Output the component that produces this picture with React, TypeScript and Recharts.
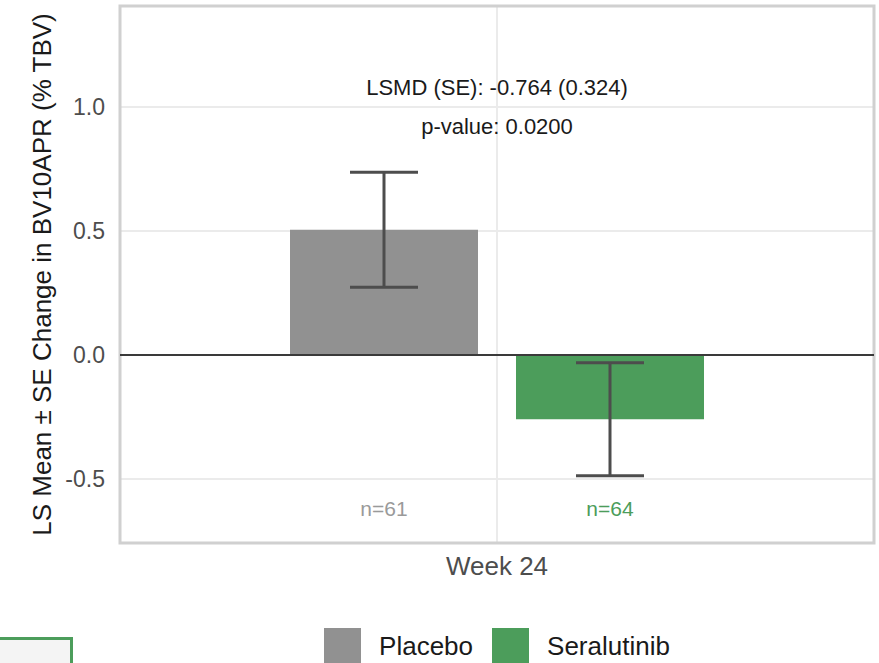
import React from 'react';
import {
  BarChart,
  Bar,
  XAxis,
  YAxis,
  CartesianGrid,
  ErrorBar,
  ReferenceLine,
  ReferenceArea,
  LabelList,
  Legend,
} from 'recharts';

// Week 24 least-squares means and standard errors per arm
const visits = ['Week 24'];
const placeboMean = [0.505];
const placeboSE = [0.232];
const seralutinibMean = [-0.259];
const seralutinibSE = [0.228];
const placeboN = [61];
const seralutinibN = [64];

const yTicks = [-0.5, 0, 0.5, 1.0];
const yDomain = [-0.758, 1.407];

const lsmdText = 'LSMD (SE): -0.764 (0.324)';
const pValueText = 'p-value: 0.0200';
const lsmdY = 1.077;
const pValueY = 0.923;
const nLabelY = -0.617;

const GRAY = '#919191';
const GREEN = '#4c9d5b';
const FONT = '"Liberation Sans", Arial, Helvetica, sans-serif';

const data = visits.map((v, i) => ({
  visit: v,
  placebo: placeboMean[i],
  placeboSE: placeboSE[i],
  placeboN: placeboN[i],
  seralutinib: seralutinibMean[i],
  seralutinibSE: seralutinibSE[i],
  seralutinibN: seralutinibN[i],
}));

// Places the "n=" text at nLabelY, using the bar's own geometry to recover the y scale
const makeNLabel = (means: number[], color: string) => (props: any) => {
  const { x, y, width, height, value, index } = props;
  const mean = means[index ?? 0];
  const h = Number(height);
  const yy = Number(y);
  let zero: number;
  if (mean >= 0) zero = yy + h;
  else zero = h < 0 ? yy + h : yy;
  const pxPerUnit = Math.abs(h) / Math.abs(mean);
  const ly = zero - nLabelY * pxPerUnit;
  return (
    <text
      x={Number(x) + Number(width) / 2}
      y={ly}
      textAnchor="middle"
      dominantBaseline="central"
      fontSize={21}
      fontFamily={FONT}
      fill={color}
    >
      {`n=${value}`}
    </text>
  );
};

const legendItems = [
  { label: 'Placebo', color: GRAY },
  { label: 'Seralutinib', color: GREEN },
];

const LegendContent = () => (
  <div
    style={{
      display: 'flex',
      justifyContent: 'center',
      alignItems: 'flex-start',
      height: 35,
      overflow: 'hidden',
      fontFamily: FONT,
      fontSize: 26,
      color: '#1a1a1a',
    }}
  >
    {legendItems.map((it, i) => (
      <div key={it.label} style={{ display: 'flex', alignItems: 'flex-start', marginLeft: i ? 19 : 0 }}>
        <div style={{ width: 37, height: 37, background: it.color }} />
        <span style={{ marginLeft: 18, lineHeight: '37px', marginTop: 0 }}>{it.label}</span>
      </div>
    ))}
  </div>
);

const XTick = (props: any) => {
  const { x, y, payload } = props;
  return (
    <text x={x} y={y} dy="0.71em" textAnchor="middle" fontSize={26} fontFamily={FONT} fill="#4d4d4d">
      {payload.value}
    </text>
  );
};

const YTitle = (props: any) => {
  const { viewBox } = props;
  const cx = viewBox.x + 42;
  const cy = viewBox.y + viewBox.height / 2;
  return (
    <text
      x={cx}
      y={cy}
      transform={`rotate(-90, ${cx}, ${cy})`}
      textAnchor="middle"
      dominantBaseline="central"
      fontSize={26}
      fontFamily={FONT}
      fill="#1a1a1a"
    >
      LS Mean ± SE Change in BV10APR (% TBV)
    </text>
  );
};

const annotationLabel = (text: string) => (props: any) => {
  const { viewBox } = props;
  return (
    <text
      x={viewBox.x + viewBox.width / 2}
      y={viewBox.y}
      textAnchor="middle"
      dominantBaseline="central"
      fontSize={22}
      fontFamily={FONT}
      fill="#1a1a1a"
    >
      {text}
    </text>
  );
};

export default function App() {
  return (
    <div style={{ position: 'absolute', left: 0, top: 0, width: 879, height: 663, background: '#fff', overflow: 'hidden' }}>
      <BarChart
        width={879}
        height={663}
        data={data}
        margin={{ top: 6, right: 5, bottom: 0, left: 0 }}
        barSize={188}
        barGap={38}
      >
        <CartesianGrid stroke="#ebebeb" strokeWidth={2} />
        <XAxis
          dataKey="visit"
          height={85}
          axisLine={false}
          tickLine={false}
          tickMargin={8}
          tick={<XTick />}
        />
        <YAxis
          width={120}
          type="number"
          domain={yDomain}
          ticks={yTicks}
          allowDataOverflow
          axisLine={false}
          tickLine={false}
          tickMargin={9}
          tickFormatter={(v: number) => v.toFixed(1)}
          tick={{ fontSize: 23, fontFamily: FONT, fill: '#4d4d4d' }}
          label={<YTitle />}
        />
        <Legend
          verticalAlign="bottom"
          wrapperStyle={{ left: 120, width: 754, bottom: 0 }}
          content={<LegendContent />}
        />
        <Bar dataKey="placebo" name="Placebo" fill={GRAY} isAnimationActive={false}>
          <ErrorBar dataKey="placeboSE" width={34} stroke="#4d4d4d" strokeWidth={3} direction="y" />
          <LabelList dataKey="placeboN" content={makeNLabel(placeboMean, '#9a9a9a')} />
        </Bar>
        <Bar dataKey="seralutinib" name="Seralutinib" fill={GREEN} isAnimationActive={false}>
          <ErrorBar dataKey="seralutinibSE" width={34} stroke="#4d4d4d" strokeWidth={3} direction="y" />
          <LabelList dataKey="seralutinibN" content={makeNLabel(seralutinibMean, GREEN)} />
        </Bar>
        <ReferenceLine y={0} stroke="#3a3a3a" strokeWidth={2} />
        <ReferenceLine y={lsmdY} stroke="none" label={annotationLabel(lsmdText)} />
        <ReferenceLine y={pValueY} stroke="none" label={annotationLabel(pValueText)} />
        <ReferenceArea y1={yDomain[0]} y2={yDomain[1]} fill="none" stroke="#d0d0d0" strokeWidth={3} ifOverflow="visible" />
      </BarChart>
      <div
        style={{
          position: 'absolute',
          left: -3,
          top: 637,
          width: 70,
          height: 40,
          border: '3px solid ' + GREEN,
          background: '#f4f4f4',
        }}
      />
    </div>
  );
}
